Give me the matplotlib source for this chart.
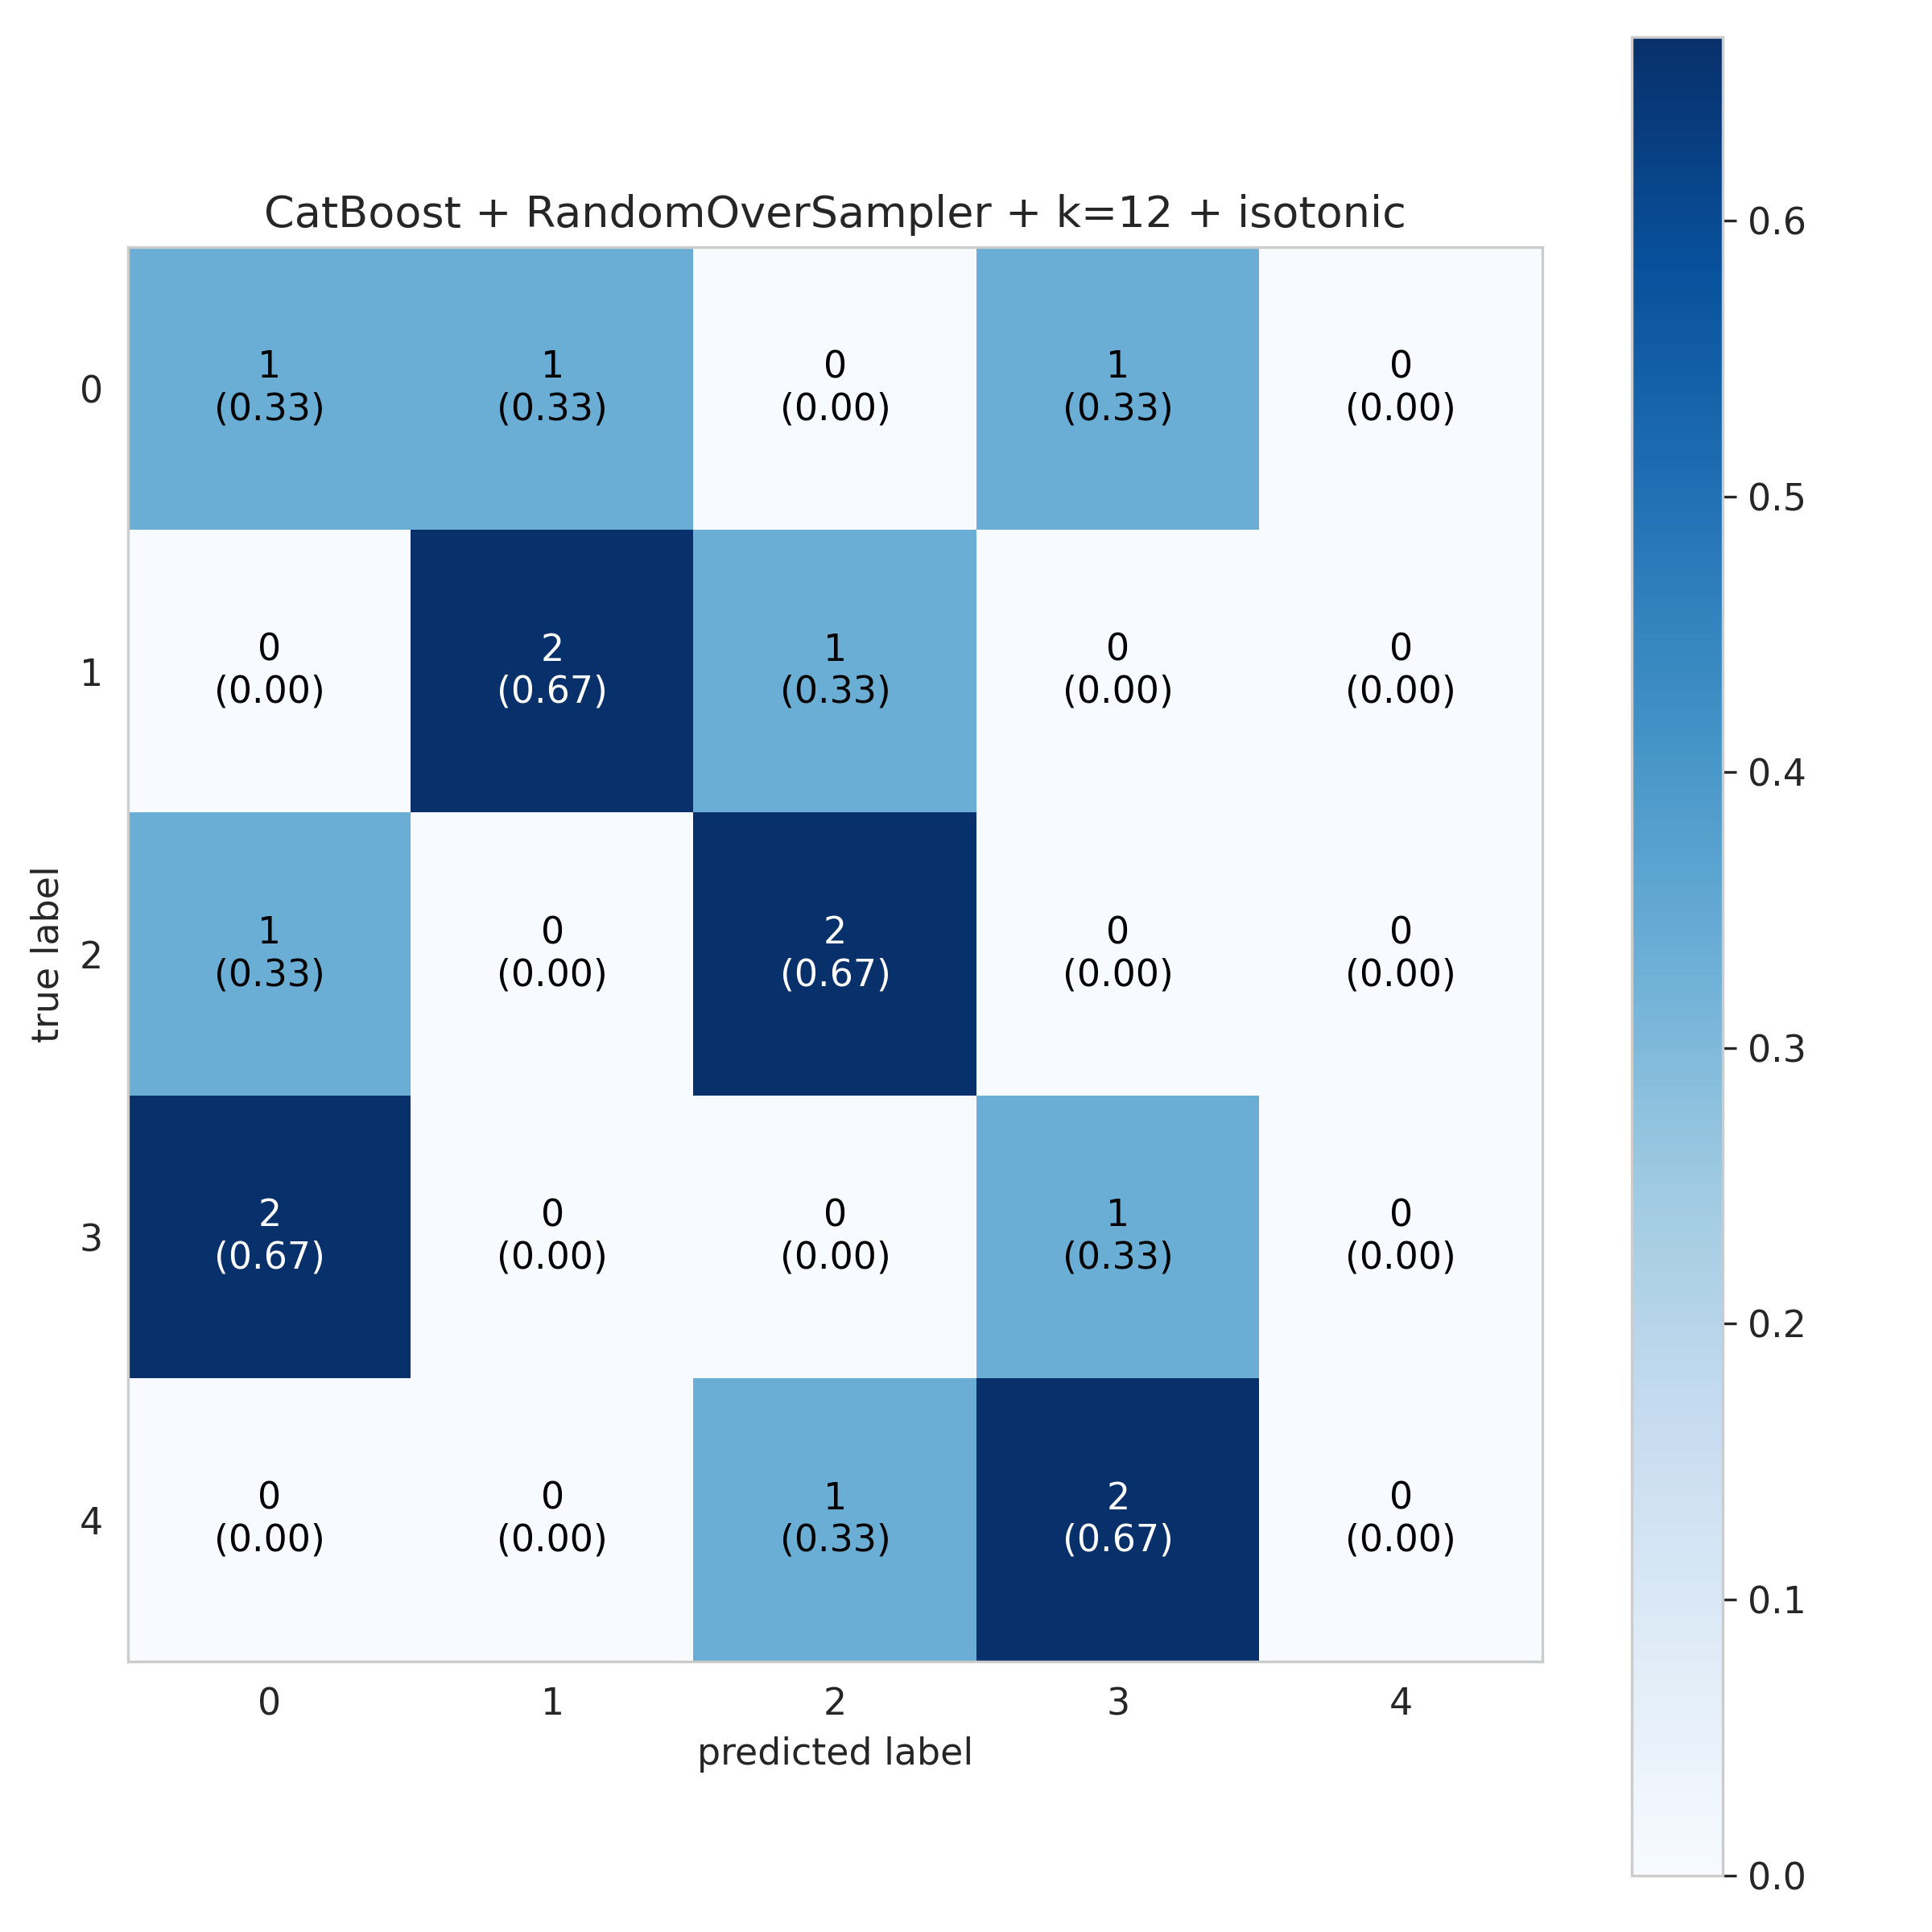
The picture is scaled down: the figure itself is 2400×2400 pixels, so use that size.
import numpy as np
import matplotlib
matplotlib.use("Agg")
import matplotlib.pyplot as plt
import seaborn as sns

sns.set_style("whitegrid")
plt.rcParams['font.family'] = ['DejaVu Sans']

labels = ["0", "1", "2", "3", "4"]
counts = np.array([
    [1, 1, 0, 1, 0],
    [0, 2, 1, 0, 0],
    [1, 0, 2, 0, 0],
    [2, 0, 0, 1, 0],
    [0, 0, 1, 2, 0],
])
norm = counts / counts.sum(axis=1, keepdims=True)
title = "CatBoost + RandomOverSampler + k=12 + isotonic"

fig = plt.figure(figsize=(8, 8), dpi=300)
ax = fig.add_axes([0.0663, 0.140, 0.7321, 0.732])
cax = fig.add_axes([0.8444, 0.0293, 0.0472, 0.9517])
im = ax.imshow(norm, cmap="Blues", vmin=0, vmax=norm.max())
ax.grid(False)
for i in range(norm.shape[0]):
    for j in range(norm.shape[1]):
        c = "white" if norm[i, j] > norm.max() / 2 else "black"
        ax.text(j, i, f"{counts[i, j]}\n({norm[i, j]:.2f})", ha="center", va="center", color=c, fontsize=11)
ax.set_xticks(range(5))
ax.set_xticklabels(labels)
ax.set_yticks(range(5))
ax.set_yticklabels(labels)
ax.tick_params(length=4, color="0.15", labelsize=11)
ax.set_xlabel("predicted label", fontsize=11)
ax.set_ylabel("true label", fontsize=11)
ax.set_title(title, fontsize=13)
cb = fig.colorbar(im, cax=cax)
cb.outline.set_edgecolor("0.8")
cax.tick_params(length=4, color="0.15", labelsize=11)
fig.savefig("out.png", dpi=300)
